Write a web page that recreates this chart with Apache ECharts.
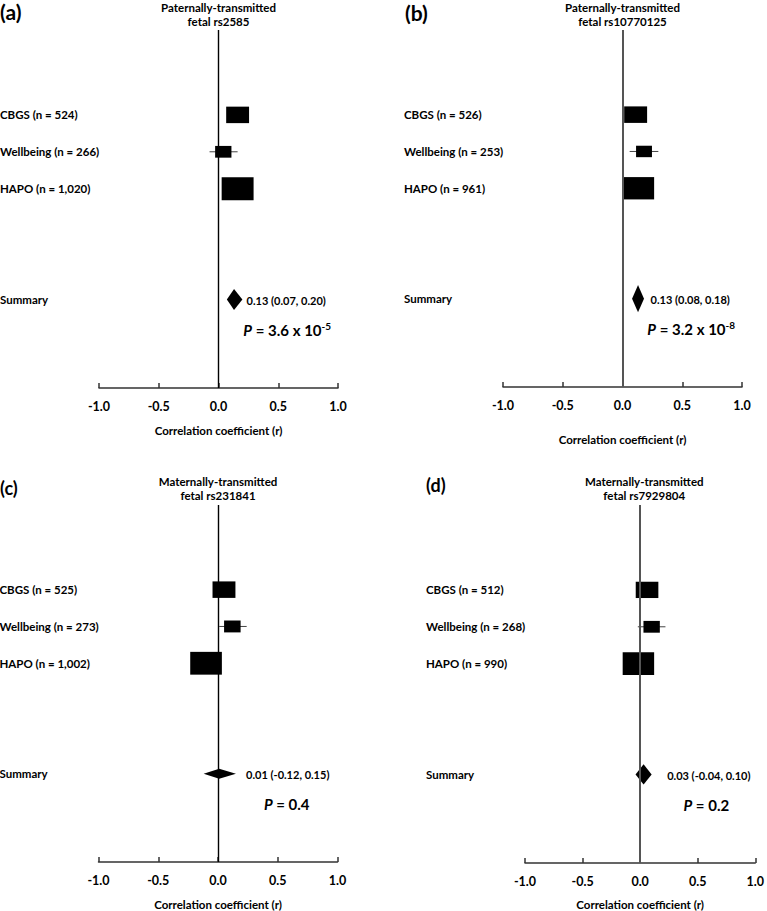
<!DOCTYPE html>
<html><head><meta charset="utf-8">
<script src="https://cdn.jsdelivr.net/npm/echarts@6/dist/echarts.min.js"></script>
<style>html,body{margin:0;padding:0;background:#fff}#c{width:767px;height:911px}</style>
</head><body><div id="c"></div>
<script>
// ---------- data ----------
const panelLetters = ['(a)', '(b)', '(c)', '(d)'];
const titleLine1 = ['Paternally-transmitted', 'Paternally-transmitted', 'Maternally-transmitted', 'Maternally-transmitted'];
const titleLine2 = ['fetal rs2585', 'fetal rs10770125', 'fetal rs231841', 'fetal rs7929804'];
const studies = ['CBGS', 'Wellbeing', 'HAPO'];
const sampleSizes = [[524, 266, 1020], [526, 253, 961], [525, 273, 1002], [512, 268, 990]];
const estimates = [[0.16, 0.04, 0.16], [0.11, 0.18, 0.135], [0.05, 0.12, -0.10], [0.06, 0.10, -0.015]];
const wellbeingLower = [-0.075, 0.06, 0.01, -0.02];
const wellbeingUpper = [0.16, 0.30, 0.24, 0.22];
const summaryLabel = 'Summary';
const summaryEstimate = [0.13, 0.13, 0.01, 0.03];
const summaryLower = [0.07, 0.08, -0.12, -0.04];
const summaryUpper = [0.20, 0.18, 0.15, 0.10];
const pValueBase = ['3.6 x 10', '3.2 x 10', '0.4', '0.2'];
const pValueExponent = ['-5', '-8', '', ''];
const xTickValues = [-1.0, -0.5, 0.0, 0.5, 1.0];
const axisTitle = 'Correlation coefficient (r)';

// ---------- layout ----------
const FONT = 'Lato';
const grids = [
  { left: 99, top: 30, width: 239, height: 358 },
  { left: 503, top: 30, width: 239, height: 357 },
  { left: 98.5, top: 505, width: 239, height: 358 },
  { left: 525, top: 505, width: 238.5, height: 358 }
];
const nameGaps = [36, 46, 36, 35];
const letterPos = [[0, 1, 21], [405, 2, 21], [0, 479, 18], [426, 476, 18]];
const titleTop = [0, 0, 474, 474];
const zeroLineStyle = [
  { color: '#000', width: 1.4 }, { color: '#555', width: 2 },
  { color: '#000', width: 1.4 }, { color: '#555', width: 2 }
];
const studyRows = [1, 2, 3];
const summaryRow = 6;
const pRow = 6.83;
const ciTextX = 0.235;
const pTextX = 0.575;

const chart = echarts.init(document.getElementById('c'), null, { renderer: 'svg' });

const xAxes = [], yAxes = [], series = [], graphic = [];
grids.forEach((g, i) => {
  xAxes.push({
    gridIndex: i, type: 'value',
    min: xTickValues[0], max: xTickValues[xTickValues.length - 1],
    interval: xTickValues[1] - xTickValues[0],
    axisLine: { show: true, onZero: false, lineStyle: { color: '#333', width: 1.5 } },
    axisTick: { show: true, inside: true, length: 5, lineStyle: { color: '#333', width: 1.5 } },
    axisLabel: { formatter: v => v.toFixed(1), fontWeight: 'bold', fontSize: 12.5, color: '#000', margin: 12, fontFamily: FONT },
    splitLine: { show: false },
    name: axisTitle, nameLocation: 'middle', nameGap: nameGaps[i],
    nameTextStyle: { fontWeight: 'bold', fontSize: 11.5, color: '#000', fontFamily: FONT }
  });
  yAxes.push({ gridIndex: i, type: 'value', inverse: true, min: -1.3, max: 8.4, show: false });

  // study boxes
  series.push({
    type: 'custom', xAxisIndex: i, yAxisIndex: i, clip: false, silent: true,
    data: studies.map((s, j) => [estimates[i][j], studyRows[j], sampleSizes[i][j]]),
    renderItem: (params, api) => {
      const c = api.coord([api.value(0), api.value(1)]);
      const w = Math.sqrt(api.value(2));
      const h = w * 0.72;
      return { type: 'rect', shape: { x: c[0] - w / 2, y: c[1] - h / 2, width: w, height: h }, style: { fill: '#000' } };
    },
    markLine: {
      silent: true, symbol: 'none', label: { show: false },
      lineStyle: { color: zeroLineStyle[i].color, width: zeroLineStyle[i].width, type: 'solid' },
      data: [{ xAxis: 0 }]
    },
    z: 3
  });
  // Wellbeing whiskers
  series.push({
    type: 'custom', xAxisIndex: i, yAxisIndex: i, clip: false, silent: true,
    data: [[wellbeingLower[i], wellbeingUpper[i], studyRows[1]]],
    renderItem: (params, api) => {
      const a = api.coord([api.value(0), api.value(2)]);
      const b = api.coord([api.value(1), api.value(2)]);
      return { type: 'line', shape: { x1: a[0], y1: a[1], x2: b[0], y2: b[1] }, style: { stroke: '#444', lineWidth: 1 } };
    },
    z: 2
  });
  // summary diamond
  series.push({
    type: 'custom', xAxisIndex: i, yAxisIndex: i, clip: false, silent: true,
    data: [[summaryEstimate[i], summaryLower[i], summaryUpper[i], summaryRow]],
    renderItem: (params, api) => {
      const c = api.coord([api.value(0), api.value(3)]);
      const l = api.coord([api.value(1), api.value(3)]);
      const r = api.coord([api.value(2), api.value(3)]);
      const h = 325 / Math.max(r[0] - l[0], 1);
      return { type: 'polygon', shape: { points: [[l[0], c[1]], [c[0], c[1] - h / 2], [r[0], c[1]], [c[0], c[1] + h / 2]] }, style: { fill: '#000' } };
    },
    z: 3
  });
  // row labels, CI text and P text
  const labels = studies.map((s, j) => s + ' (n = ' + sampleSizes[i][j].toLocaleString('en-US') + ')').concat([summaryLabel]);
  const labelRows = studyRows.concat([summaryRow]);
  const ciText = summaryEstimate[i].toFixed(2) + ' (' + summaryLower[i].toFixed(2) + ', ' + summaryUpper[i].toFixed(2) + ')';
  const pText = '{i|P}{r| = ' + pValueBase[i] + '}' + (pValueExponent[i] ? '{s|' + pValueExponent[i] + '}' : '');
  series.push({
    type: 'custom', xAxisIndex: i, yAxisIndex: i, clip: false, silent: true,
    data: labelRows.map(r => [xTickValues[0], r]).concat([[ciTextX, summaryRow], [pTextX, pRow]]),
    renderItem: (params, api) => {
      const k = params.dataIndex;
      const p = api.coord([api.value(0), api.value(1)]);
      if (k < labels.length) {
        return { type: 'text', x: p[0] - 99, y: p[1], style: { text: labels[k], font: 'bold 11.5px ' + FONT, fill: '#000', align: 'left', verticalAlign: 'middle' } };
      } else if (k === labels.length) {
        return { type: 'text', x: p[0], y: p[1] + 1, style: { text: ciText, font: 'bold 11px ' + FONT, fill: '#000', align: 'left', verticalAlign: 'middle' } };
      }
      return {
        type: 'text', x: p[0], y: p[1],
        style: {
          text: pText, align: 'center', verticalAlign: 'middle', fill: '#000',
          rich: {
            i: { fontStyle: 'italic', fontWeight: 'bold', fontSize: 15, fontFamily: FONT, fill: '#000' },
            r: { fontWeight: 'bold', fontSize: 15, fontFamily: FONT, fill: '#000' },
            s: { fontWeight: 'bold', fontSize: 10, fontFamily: FONT, fill: '#000', verticalAlign: 'top', padding: [0, 0, 8, 0] }
          }
        }
      };
    },
    z: 4
  });

  // titles & panel letters
  graphic.push({
    type: 'text', x: g.left + g.width / 2, y: titleTop[i], silent: true,
    style: { text: titleLine1[i] + '\n' + titleLine2[i], font: 'bold 11.5px ' + FONT, lineHeight: 14, fill: '#000', align: 'center', verticalAlign: 'top' }
  });
  graphic.push({
    type: 'text', x: letterPos[i][0], y: letterPos[i][1], silent: true,
    style: { text: panelLetters[i], font: 'bold ' + letterPos[i][2] + 'px ' + FONT, fill: '#000', align: 'left', verticalAlign: 'top' }
  });
});

chart.setOption({
  backgroundColor: '#fff',
  animation: false,
  grid: grids.map(g => ({ left: g.left, top: g.top, width: g.width, height: g.height, containLabel: false })),
  xAxis: xAxes,
  yAxis: yAxes,
  series: series,
  graphic: graphic
});
</script>
</body></html>
